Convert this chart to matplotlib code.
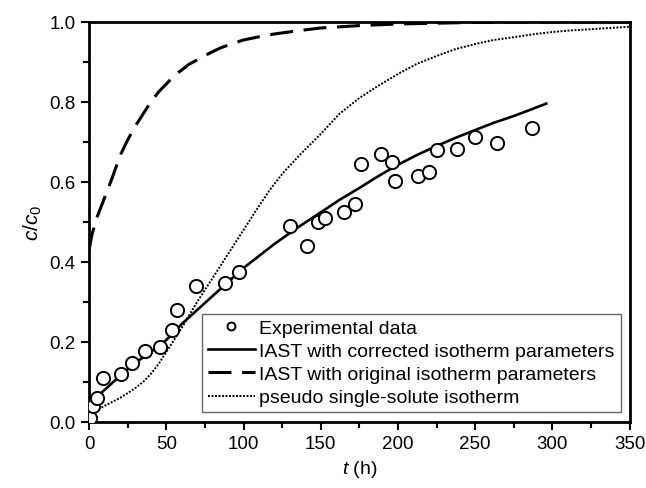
import numpy as np
import matplotlib
matplotlib.use("Agg")
import matplotlib.pyplot as plt
from matplotlib.ticker import MultipleLocator

plt.rcParams['font.family'] = ['Liberation Sans', 'DejaVu Sans']
plt.rcParams['mathtext.fontset'] = 'custom'
plt.rcParams['mathtext.it'] = 'Liberation Sans:italic'
plt.rcParams['mathtext.rm'] = 'Liberation Sans'

# experimental data
t_exp = [0.5, 2.6, 5, 9, 21, 28, 36, 46, 54, 57, 69, 88, 97, 130, 141, 148, 153,
         165, 172, 176, 189, 196, 198, 213, 220, 225, 238, 250, 264, 287]
c_exp = [0.01, 0.04, 0.06, 0.11, 0.12, 0.148, 0.178, 0.188, 0.23, 0.28, 0.34, 0.347,
         0.376, 0.491, 0.441, 0.499, 0.511, 0.526, 0.546, 0.646, 0.671, 0.651, 0.603,
         0.614, 0.626, 0.681, 0.683, 0.713, 0.698, 0.736]

# IAST with corrected isotherm parameters
t_corr = [0, 2, 5, 10, 20, 30, 40, 50, 60, 70, 80, 90, 100, 110, 120, 135, 150, 162,
          175, 187, 200, 212, 225, 237, 250, 262, 275, 286, 296]
c_corr = [0.01, 0.04, 0.062, 0.08, 0.115, 0.148, 0.175, 0.205, 0.245, 0.28, 0.315, 0.35,
          0.385, 0.415, 0.445, 0.486, 0.524, 0.555, 0.585, 0.614, 0.643, 0.667, 0.69,
          0.71, 0.73, 0.748, 0.765, 0.781, 0.796]

# IAST with original isotherm parameters
t_orig = [0, 1, 2, 5, 10, 15, 20, 25, 30, 35, 40, 45, 50, 55, 60, 65, 70, 78, 85, 92,
          100, 110, 120, 135, 150, 175, 200, 250, 300, 350]
c_orig = [0.43, 0.45, 0.47, 0.51, 0.56, 0.61, 0.665, 0.705, 0.74, 0.77, 0.80, 0.825,
          0.845, 0.865, 0.88, 0.895, 0.905, 0.922, 0.935, 0.945, 0.955, 0.963, 0.97,
          0.978, 0.985, 0.991, 0.995, 0.999, 1.0, 1.0]

# pseudo single-solute isotherm
t_pss = [0, 5, 10, 15, 20, 25, 30, 35, 40, 45, 50, 55, 60, 65, 70, 75, 80, 85, 90, 95,
         100, 105, 110, 117, 125, 137, 150, 162, 175, 187, 200, 212, 225, 237, 250, 262,
         275, 287, 300, 312, 325, 337, 350]
c_pss = [0.02, 0.03, 0.04, 0.05, 0.06, 0.072, 0.085, 0.10, 0.12, 0.145, 0.175, 0.205,
         0.235, 0.268, 0.30, 0.33, 0.36, 0.39, 0.42, 0.45, 0.48, 0.51, 0.54, 0.58, 0.62,
         0.67, 0.72, 0.77, 0.81, 0.84, 0.87, 0.895, 0.915, 0.932, 0.945, 0.955, 0.962,
         0.969, 0.975, 0.979, 0.982, 0.985, 0.988]

fig = plt.figure(figsize=(6.46, 4.89), dpi=100)
ax = fig.add_axes([0.1378, 0.135, 0.837, 0.818])

ax.plot(t_exp, c_exp, 'o', mfc='white', mec='black', ms=9.5, mew=1.4,
        label='Experimental data', zorder=3)
ax.plot(t_corr, c_corr, '-', color='black', lw=1.9,
        label='IAST with corrected isotherm parameters')
ax.plot(t_orig, c_orig, color='black', lw=2.2, dashes=(7.5, 3.5),
        label='IAST with original isotherm parameters')
ax.plot(t_pss, c_pss, color='black', lw=1.4, dashes=(1, 0.8),
        label='pseudo single-solute isotherm')

ax.set_xlim(0, 350)
ax.set_ylim(0, 1.0)
ax.xaxis.set_major_locator(MultipleLocator(50))
ax.xaxis.set_minor_locator(MultipleLocator(25))
ax.yaxis.set_major_locator(MultipleLocator(0.2))
ax.yaxis.set_minor_locator(MultipleLocator(0.1))
ax.yaxis.set_major_formatter(plt.FuncFormatter(lambda v, p: f"{v:.1f}"))
ax.tick_params(which='major', direction='out', length=6, width=1.5, labelsize=13.5)
ax.tick_params(which='minor', direction='out', length=4, width=1.5)
for s in ax.spines.values():
    s.set_linewidth(2)

ax.set_xlabel(r'$t$ (h)', fontsize=14)
ax.set_ylabel(r'$c/c_{\mathrm{0}}$', fontsize=15)

leg = ax.legend(loc='lower right', fontsize=14, frameon=True, fancybox=False,
                edgecolor='#444444', handlelength=2.4, borderaxespad=0.3,
                labelspacing=0.28, handletextpad=0.25, markerscale=0.6,
                borderpad=0.3, bbox_to_anchor=(0.994, 0.01))
leg.get_frame().set_linewidth(1.0)

fig.savefig('out.png', dpi=100)
